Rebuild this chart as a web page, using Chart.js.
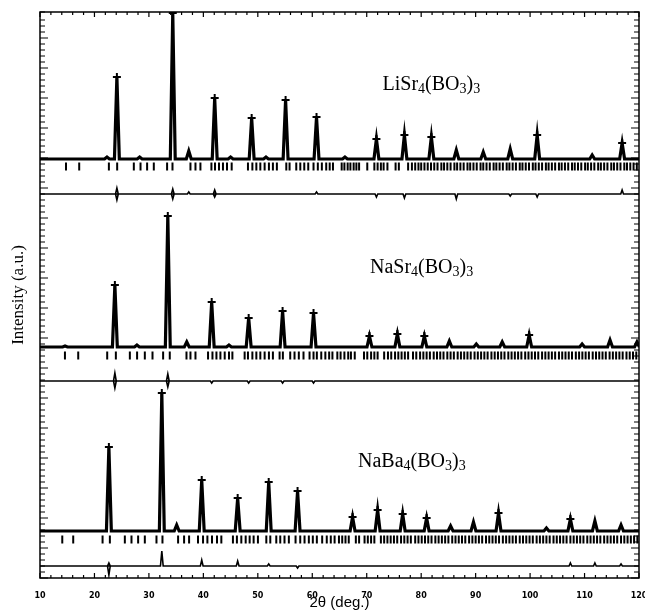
<!DOCTYPE html>
<html>
<head>
<meta charset="utf-8">
<script src="https://cdn.jsdelivr.net/npm/chart.js@4.4.0/dist/chart.umd.min.js"></script>
<style>
  body { margin: 0; background: #fff; }
  canvas { display: block; }
</style>
</head>
<body>
<canvas id="xrd" width="645" height="612"></canvas>
<script>
// 2theta axis
const xMin = 10, xMax = 120;

// LiSr4(BO3)3 : peak positions (deg) and heights (a.u.)
const liPeakPos = [22.3, 24.12, 28.3, 34.38, 37.32, 42.08, 45.0, 48.87, 51.5, 55.1, 60.78, 66.0, 71.78, 76.92, 81.87, 86.45, 91.4, 96.35, 101.3, 111.4, 116.9];
const liPeakInt = [2, 82, 2, 146, 8, 61, 2, 41, 2, 59, 42, 2, 20, 24, 22, 9, 7, 10, 24, 4, 16];
const liBragg = [14.77, 17.2, 22.65, 24.17, 27.23, 28.46, 29.67, 30.9, 33.34, 34.33, 37.63, 38.55, 39.46, 41.48, 42.14, 42.87, 43.6, 44.34, 45.2,
  48.19, 49.0, 49.73, 50.46, 51.25, 52.04, 52.77, 53.5, 55.23, 55.83, 57.06, 57.8, 58.53, 59.26, 60.23, 61.02, 61.76, 62.56,
  63.2, 63.8, 65.4, 65.9, 66.5, 67.0, 67.6, 68.1, 68.6, 70.1, 71.4, 72.0, 72.6, 73.1, 73.8, 75.3, 75.9, 77.6, 78.3, 78.9, 79.5, 80.0,
  80.6, 81.2, 81.8, 82.4, 83.0, 83.7, 84.2, 84.8, 85.4, 86.1, 86.6, 87.2, 87.8, 88.5, 89.0, 89.6, 90.2, 90.9, 91.4, 92.0, 92.6, 93.3,
  93.8, 94.4, 95.0, 95.7, 96.2, 96.8, 97.4, 98.1, 98.6, 99.2, 99.8, 100.5, 101.0, 101.6, 102.2, 102.9, 103.4, 104.0, 104.6, 105.3,
  105.8, 106.4, 107.0, 107.7, 108.2, 108.8, 109.4, 110.1, 110.6, 111.2, 111.8, 112.5, 113.0, 113.6, 114.2, 114.9, 115.4, 116.0,
  116.6, 117.3, 117.8, 118.4, 119.0, 119.6];
const liDiffPos = [24.12, 24.12, 34.38, 34.38, 37.32, 42.08, 42.08, 60.78, 71.78, 76.92, 86.45, 96.35, 101.3, 116.9];
const liDiffVal = [6, -6, 5, -5, 2, 4, -3, 2, -3, -4, -5, -2, -3, 4];

// NaSr4(BO3)3
const srPeakPos = [14.6, 23.75, 27.8, 33.47, 36.95, 41.53, 44.7, 48.32, 54.55, 60.23, 70.5, 75.63, 80.58, 85.17, 90.12, 94.88, 99.83, 109.55, 114.68, 119.63];
const srPeakInt = [1, 62, 2, 131, 5, 45, 2, 29, 36, 34, 11, 13, 11, 6, 3, 5, 12, 3, 7, 5];
const srBragg = [14.58, 17.02, 22.34, 23.93, 26.5, 27.83, 29.25, 30.66, 32.61, 33.83, 36.9, 37.63, 38.55, 40.86, 41.67, 42.4, 43.13,
  43.92, 44.71, 45.33, 47.58, 48.19, 49.0, 49.73, 50.46, 51.25, 52.04, 52.77, 54.0, 54.6, 55.95, 56.74, 57.53, 58.39, 59.5, 60.23,
  60.84, 61.65, 62.4, 63.1, 63.7, 64.6, 65.2, 65.9, 66.6, 67.1, 67.8, 69.5, 70.1, 70.8, 71.4, 72.0, 73.2, 73.9, 74.5, 75.2, 75.8,
  76.4, 77.0, 77.6, 78.5, 79.1, 79.8, 80.4, 81.0, 81.6, 82.3, 82.9, 83.5, 84.1, 84.8, 85.4, 86.0, 86.7, 87.3, 87.9, 88.5, 89.1,
  89.8, 90.4, 91.0, 91.6, 92.2, 92.9, 93.5, 94.1, 94.7, 95.3, 96.0, 96.6, 97.2, 97.8, 98.4, 99.1, 99.7, 100.3, 100.9, 101.5, 102.2,
  102.8, 103.4, 104.0, 104.6, 105.3, 105.9, 106.5, 107.1, 107.7, 108.4, 109.0, 109.6, 110.2, 110.8, 111.5, 112.1, 112.7, 113.3,
  113.9, 114.6, 115.2, 115.8, 116.4, 117.0, 117.7, 118.3, 118.9, 119.5];
const srDiffPos = [23.75, 23.75, 33.47, 33.47, 41.53, 48.32, 54.55, 60.23];
const srDiffVal = [8, -7, 7, -6, -2, -2, -2, -2];

// NaBa4(BO3)3
const baPeakPos = [22.65, 32.37, 35.1, 39.7, 46.3, 52.0, 57.3, 67.4, 72.0, 76.6, 81.0, 85.4, 89.6, 94.2, 103.0, 107.4, 111.9, 116.7];
const baPeakInt = [84, 138, 6, 51, 33, 49, 40, 14, 21, 17, 13, 5, 9, 18, 3, 12, 10, 6];
const baBragg = [14.09, 16.1, 21.49, 22.83, 25.58, 26.8, 28.02, 29.25, 31.39, 32.49, 35.36, 36.46, 37.38, 39.02, 39.94, 40.74, 41.59,
  42.5, 43.3, 45.43, 46.16, 46.97, 47.77, 48.5, 49.23, 50.02, 51.56, 52.29, 53.39, 54.12, 54.9, 55.7, 56.93, 57.79, 58.58, 59.37,
  60.1, 60.84, 61.82, 62.66, 63.4, 64.1, 64.9, 65.5, 66.1, 66.7, 68.0, 68.6, 69.6, 70.2, 70.8, 71.4, 72.6, 73.2, 73.8, 74.4, 75.0,
  75.6, 76.3, 76.9, 77.5, 78.1, 78.9, 79.5, 80.1, 80.7, 81.3, 81.9, 82.6, 83.2, 83.8, 84.4, 85.0, 85.7, 86.3, 86.9, 87.5, 88.1,
  88.8, 89.4, 90.0, 90.6, 91.2, 91.9, 92.5, 93.1, 93.7, 94.3, 95.0, 95.6, 96.2, 96.8, 97.4, 98.1, 98.7, 99.3, 99.9, 100.5, 101.2,
  101.8, 102.4, 103.0, 103.6, 104.3, 104.9, 105.5, 106.1, 106.7, 107.4, 108.0, 108.6, 109.2, 109.8, 110.5, 111.1, 111.7, 112.3,
  112.9, 113.6, 114.2, 114.8, 115.4, 116.0, 116.7, 117.3, 117.9, 118.5, 119.1, 119.7];
const baDiffPos = [22.65, 22.65, 32.37, 39.7, 46.3, 52.0, 57.3, 107.4, 111.9, 116.7];
const baDiffVal = [3, -9, 15, 6, 5, 2, -2, 3, 3, 2];

// stacking offsets (a.u.) for each panel: pattern baseline, Bragg row, difference curve
const liOffset = { base: 419, bragg: 411.5, diff: 384 };
const srOffset = { base: 231, bragg: 222.5, diff: 197 };
const baOffset = { base: 47, bragg: 38.5, diff: 12 };

const formulas = [
  { text: 'LiSr4(BO3)3', x: 72.9, y: 493 },
  { text: 'NaSr4(BO3)3', x: 70.6, y: 310 },
  { text: 'NaBa4(BO3)3', x: 68.4, y: 116 }
];

function profile(pos, val, base, half) {
  const pts = [{ x: xMin, y: base }];
  pos.forEach((p, i) => {
    pts.push({ x: p - half, y: base }, { x: p, y: base + val[i] }, { x: p + half, y: base });
  });
  pts.push({ x: xMax, y: base });
  return pts;
}

function tops(pos, val, base) {
  const pts = [];
  pos.forEach((p, i) => { if (val[i] > 10) pts.push({ x: p, y: base + val[i] }); });
  return pts;
}

function braggRow(list, y) {
  return list.map(x => ({ x: x, y: y }));
}

function panel(peakPos, peakInt, bragg, diffPos, diffVal, off) {
  return [
    { data: profile(peakPos, peakInt, off.base, 0.45), borderColor: '#000', borderWidth: 3.2, pointRadius: 0, showLine: true },
    { data: tops(peakPos, peakInt, off.base), pointStyle: 'cross', pointRadius: 4, borderColor: '#000', pointBorderWidth: 2, showLine: false },
    { data: braggRow(bragg, off.bragg), pointStyle: 'line', rotation: 90, pointRadius: 4, borderColor: '#000', pointBorderWidth: 2, showLine: false },
    { data: profile(diffPos, diffVal, off.diff, 0.25), borderColor: '#000', borderWidth: 1.6, pointRadius: 0, showLine: true }
  ];
}

const framePlugin = {
  id: 'frame',
  afterDraw(chart) {
    const ctx = chart.ctx;
    const a = chart.chartArea;
    const xs = chart.scales.x, ys = chart.scales.y;
    ctx.save();
    ctx.strokeStyle = '#000';
    ctx.lineWidth = 1.5;
    ctx.strokeRect(a.left, a.top, a.right - a.left, a.bottom - a.top);
    ctx.lineWidth = 1.2;
    ctx.beginPath();
    xs.ticks.forEach(t => {
      const px = xs.getPixelForValue(t.value);
      const len = t.value % 10 === 0 ? 5 : 3;
      ctx.moveTo(px, a.bottom); ctx.lineTo(px, a.bottom - len);
      ctx.moveTo(px, a.top); ctx.lineTo(px, a.top + len);
    });
    ys.ticks.forEach(t => {
      const py = ys.getPixelForValue(t.value);
      const len = t.value % 30 === 0 ? 8 : 5;
      ctx.moveTo(a.left, py); ctx.lineTo(a.left + len, py);
      ctx.moveTo(a.right, py); ctx.lineTo(a.right - len, py);
    });
    ctx.stroke();

    // formula labels with subscript digits
    ctx.fillStyle = '#000';
    ctx.textBaseline = 'middle';
    formulas.forEach(f => {
      let px = xs.getPixelForValue(f.x);
      const py = ys.getPixelForValue(f.y);
      for (const ch of f.text) {
        const sub = /[0-9]/.test(ch);
        ctx.font = sub ? '14px "Liberation Serif"' : '20px "Liberation Serif"';
        ctx.fillText(ch, px, sub ? py + 4 : py);
        px += ctx.measureText(ch).width;
      }
    });
    ctx.restore();
  }
};

new Chart(document.getElementById('xrd'), {
  type: 'scatter',
  data: {
    datasets: [
      ...panel(liPeakPos, liPeakInt, liBragg, liDiffPos, liDiffVal, liOffset),
      ...panel(srPeakPos, srPeakInt, srBragg, srDiffPos, srDiffVal, srOffset),
      ...panel(baPeakPos, baPeakInt, baBragg, baDiffPos, baDiffVal, baOffset)
    ]
  },
  options: {
    responsive: false,
    animation: false,
    layout: { padding: { top: 12, right: 5, bottom: 0, left: 0 } },
    plugins: { legend: { display: false }, tooltip: { enabled: false } },
    scales: {
      x: {
        type: 'linear',
        min: xMin,
        max: xMax,
        grid: { display: false },
        border: { display: false },
        ticks: {
          stepSize: 2,
          autoSkip: false,
          maxRotation: 0,
          padding: 5,
          color: '#000',
          font: { family: 'DejaVu Sans', size: 8, weight: 'bold' },
          callback: v => (v % 10 === 0 ? v : '')
        },
        title: {
          display: true,
          text: '2θ (deg.)',
          color: '#000',
          padding: 0,
          font: { family: 'Liberation Sans', size: 15 }
        },
        afterFit(s) { s.height = 34; s.paddingLeft = 0; s.paddingRight = 0; }
      },
      y: {
        min: 0,
        max: 566,
        grid: { display: false },
        border: { display: false },
        ticks: { display: false, stepSize: 6 },
        title: {
          display: true,
          text: 'Intensity (a.u.)',
          color: '#000',
          padding: { top: 8, bottom: 0 },
          font: { family: 'Liberation Serif', size: 17 }
        },
        afterFit(s) { s.width = 40; s.paddingTop = 0; s.paddingBottom = 0; }
      }
    }
  },
  plugins: [framePlugin]
});
</script>
</body>
</html>
